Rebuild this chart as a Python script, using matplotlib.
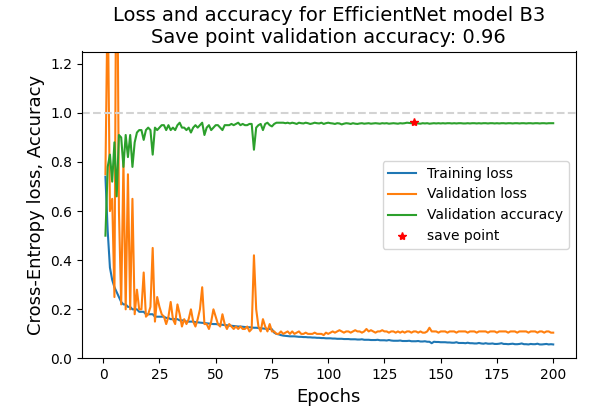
import matplotlib
matplotlib.use("Agg")
import matplotlib.pyplot as plt
import numpy as np

train_loss = [0.74,0.52,0.37,0.32,0.29,0.27,0.25,0.23,0.22,0.22,
0.21,0.21,0.20,0.20,0.20,0.19,0.19,0.19,0.18,0.18,
0.18,0.18,0.17,0.17,0.17,0.17,0.17,0.165,0.165,0.16,
0.16,0.16,0.16,0.155,0.155,0.155,0.15,0.15,0.15,0.15,
0.148,0.147,0.146,0.145,0.144,0.143,0.142,0.141,0.14,0.14,
0.139,0.138,0.137,0.136,0.135,0.134,0.133,0.132,0.131,0.13,
0.13,0.129,0.128,0.127,0.127,0.126,0.125,0.125,0.124,0.123,
0.122,0.121,0.12,0.12,0.119,0.105,0.1,0.098,0.095,0.093,
0.092,0.091,0.09,0.09,0.09,0.089,0.088,0.088,0.087,0.087,
0.086,0.086,0.085,0.085,0.084,0.084,0.083,0.083,0.082,0.082,
0.082,0.081,0.081,0.08,0.08,0.08,0.079,0.079,0.079,0.078,
0.078,0.078,0.077,0.077,0.078,0.076,0.076,0.076,0.075,0.075,
0.075,0.076,0.074,0.074,0.074,0.073,0.075,0.073,0.072,0.072,
0.072,0.073,0.071,0.071,0.071,0.072,0.07,0.07,0.07,0.071,
0.069,0.069,0.07,0.068,0.068,0.062,0.068,0.067,0.067,0.066,
0.066,0.066,0.065,0.065,0.064,0.064,0.066,0.063,0.063,0.063,
0.062,0.064,0.062,0.062,0.061,0.061,0.063,0.061,0.06,0.062,
0.06,0.06,0.061,0.059,0.059,0.06,0.062,0.059,0.059,0.058,
0.059,0.06,0.058,0.058,0.059,0.061,0.058,0.058,0.057,0.059,
0.058,0.058,0.06,0.057,0.057,0.058,0.059,0.057,0.058,0.057]

val_loss = [0.75,1.5,0.6,0.65,0.25,2.0,0.6,0.22,0.8,0.2,
0.75,0.2,0.65,0.18,0.28,0.2,0.2,0.35,0.17,0.18,
0.21,0.45,0.15,0.25,0.21,0.18,0.17,0.14,0.17,0.23,
0.16,0.14,0.22,0.18,0.13,0.16,0.14,0.16,0.2,0.15,
0.13,0.16,0.2,0.29,0.14,0.14,0.12,0.15,0.2,0.17,
0.14,0.13,0.18,0.14,0.12,0.14,0.13,0.12,0.13,0.12,
0.13,0.12,0.12,0.13,0.11,0.12,0.42,0.2,0.13,0.11,
0.16,0.13,0.11,0.14,0.11,0.11,0.10,0.10,0.11,0.10,
0.105,0.11,0.10,0.11,0.10,0.105,0.11,0.10,0.10,0.105,
0.10,0.10,0.10,0.105,0.10,0.10,0.10,0.095,0.105,0.10,
0.105,0.11,0.105,0.11,0.115,0.11,0.105,0.11,0.11,0.105,
0.11,0.115,0.11,0.11,0.105,0.11,0.12,0.11,0.115,0.11,
0.105,0.11,0.11,0.115,0.11,0.11,0.105,0.11,0.11,0.105,
0.11,0.105,0.11,0.105,0.11,0.11,0.105,0.11,0.11,0.105,
0.11,0.105,0.105,0.11,0.125,0.11,0.11,0.11,0.105,0.11,
0.11,0.11,0.105,0.11,0.11,0.11,0.105,0.11,0.11,0.11,
0.11,0.105,0.11,0.11,0.11,0.105,0.11,0.11,0.11,0.11,
0.105,0.11,0.11,0.11,0.105,0.11,0.11,0.11,0.11,0.105,
0.11,0.11,0.11,0.105,0.11,0.11,0.11,0.11,0.105,0.11,
0.11,0.11,0.105,0.11,0.11,0.105,0.11,0.11,0.105,0.105]

val_acc = [0.5,0.78,0.83,0.72,0.88,0.66,0.91,0.9,0.78,0.91,
0.82,0.91,0.78,0.88,0.92,0.93,0.93,0.89,0.93,0.94,
0.93,0.83,0.94,0.93,0.94,0.95,0.95,0.93,0.95,0.93,
0.94,0.93,0.95,0.96,0.94,0.94,0.93,0.94,0.92,0.94,
0.95,0.94,0.95,0.96,0.91,0.94,0.95,0.93,0.94,0.95,
0.95,0.94,0.93,0.95,0.95,0.95,0.955,0.95,0.955,0.96,
0.95,0.955,0.95,0.95,0.955,0.955,0.85,0.94,0.95,0.955,
0.93,0.955,0.96,0.95,0.945,0.955,0.96,0.96,0.96,0.96,
0.958,0.96,0.957,0.96,0.958,0.955,0.96,0.958,0.957,0.96,
0.958,0.955,0.957,0.96,0.958,0.957,0.96,0.955,0.958,0.96,
0.958,0.957,0.955,0.958,0.957,0.953,0.956,0.958,0.957,0.955,
0.958,0.956,0.955,0.957,0.958,0.956,0.957,0.958,0.956,0.957,
0.958,0.957,0.956,0.958,0.957,0.958,0.956,0.957,0.958,0.957,
0.956,0.958,0.957,0.958,0.96,0.959,0.958,0.962,0.958,0.957,
0.956,0.958,0.957,0.958,0.956,0.957,0.958,0.957,0.958,0.957,
0.958,0.957,0.958,0.958,0.957,0.958,0.957,0.958,0.958,0.957,
0.957,0.958,0.957,0.958,0.958,0.957,0.958,0.957,0.958,0.958,
0.957,0.958,0.958,0.957,0.958,0.957,0.958,0.958,0.957,0.958,
0.958,0.957,0.958,0.958,0.957,0.958,0.958,0.957,0.958,0.958,
0.957,0.958,0.958,0.957,0.958,0.958,0.957,0.958,0.958,0.958]

save_epoch = 138
save_acc = 0.962

epochs = np.arange(1, len(train_loss) + 1)

fig, ax = plt.subplots(figsize=(6.06, 4.12), dpi=100)
ax.plot(epochs, train_loss, color="#1f77b4", label="Training loss")
ax.plot(epochs, val_loss, color="#ff7f0e", label="Validation loss")
ax.plot(epochs, val_acc, color="#2ca02c", label="Validation accuracy")
ax.plot([save_epoch], [save_acc], "r*", label="save point")
ax.axhline(1.0, color="lightgray", linestyle="--")
ax.set_ylim(0, 1.25)
ax.set_xlim(-9.5, 210)
ax.set_xlabel("Epochs", fontsize=13)
ax.set_ylabel("Cross-Entropy loss, Accuracy", fontsize=13)
ax.set_title("Loss and accuracy for EfficientNet model B3\nSave point validation accuracy: 0.96", fontsize=14)
ax.legend(loc="center right")
fig.subplots_adjust(left=0.135, right=0.95, top=0.875, bottom=0.13)
fig.savefig("out.png")
